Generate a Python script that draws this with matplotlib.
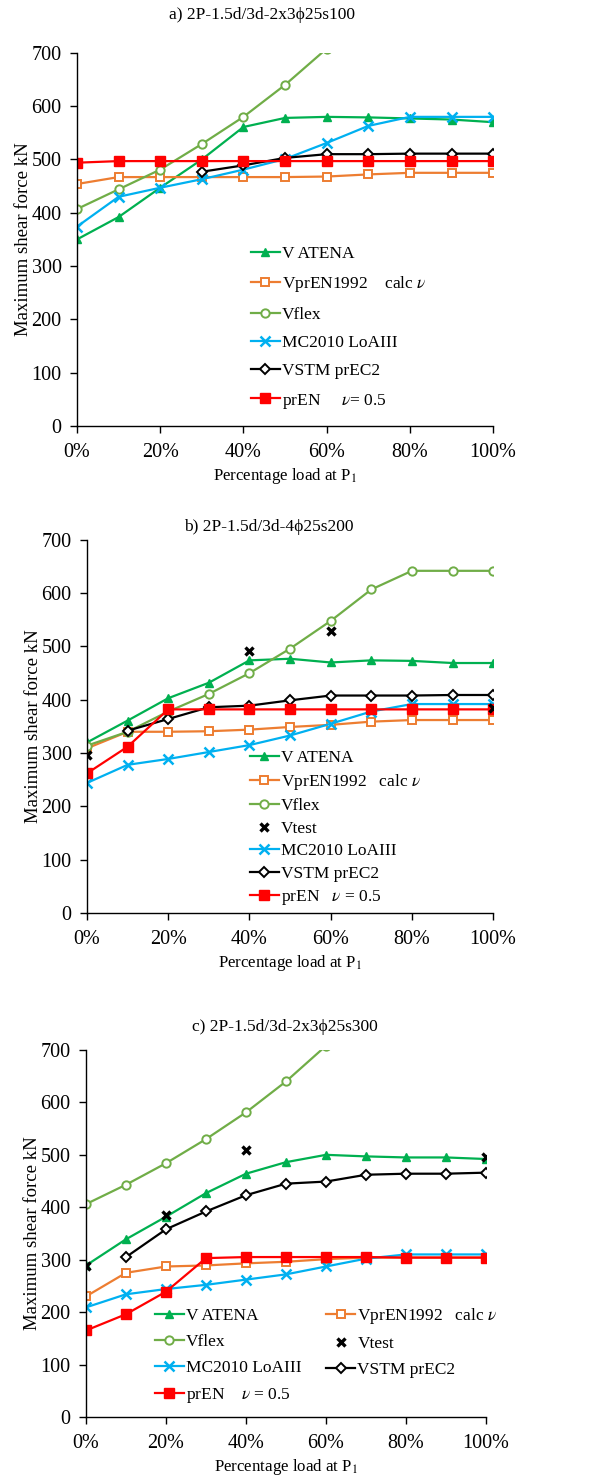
import matplotlib
matplotlib.use("Agg")
import matplotlib.pyplot as plt

plt.rcParams["font.family"] = ["Liberation Serif", "DejaVu Serif"]
plt.rcParams["mathtext.fontset"] = "stix"

# x positions (fraction of load at P1)
pct = [0, 10, 20, 30, 40, 50, 60, 70, 80, 90, 100]

# --- a) 2P-1.5d/3d-2x3phi25s100
a_atena = [350, 392, 447, 500, 561, 578, 580, 579, 577, 575, 570]
a_prEN1992 = [454, 467, 467, 467, 467, 467, 468, 472, 475, 475, 475]
a_flex = [407, 444, 481, 529, 580, 640, 708]
a_mc2010 = [374, 430, 447, 463, 481, 501, 531, 563, 580, 580, 580]
a_vstm_pct = [30, 40, 50, 60, 70, 80, 90, 100]
a_vstm = [477, 489, 503, 510, 510, 511, 511, 511]
a_pren = [494, 497, 497, 497, 497, 497, 497, 497, 497, 497, 497]

# --- b) 2P-1.5d/3d-4phi25s200
b_atena = [320, 361, 403, 432, 474, 477, 470, 474, 473, 469, 469]
b_prEN1992 = [309, 340, 340, 341, 344, 349, 353, 359, 362, 362, 362]
b_flex = [314, 340, 378, 411, 450, 496, 548, 607, 642, 642, 642]
b_test_pct = [0, 40, 60, 100]
b_test = [297, 492, 530, 385]
b_mc2010 = [244, 278, 289, 302, 315, 333, 355, 378, 392, 392, 392]
b_vstm_pct = [10, 20, 30, 40, 50, 60, 70, 80, 90, 100]
b_vstm = [342, 364, 386, 389, 399, 408, 408, 408, 409, 409]
b_pren = [262, 312, 382, 382, 382, 382, 382, 382, 382, 382, 382]

# --- c) 2P-1.5d/3d-2x3phi25s300
c_atena = [289, 339, 382, 427, 464, 486, 500, 497, 495, 495, 492]
c_prEN1992 = [230, 275, 287, 289, 293, 296, 301, 304, 304, 304, 304]
c_flex = [406, 443, 484, 530, 581, 640, 708]
c_test_pct = [0, 20, 40, 100]
c_test = [287, 386, 510, 496]
c_mc2010 = [209, 234, 244, 252, 262, 272, 287, 302, 310, 310, 310]
c_vstm_pct = [10, 20, 30, 40, 50, 60, 70, 80, 90, 100]
c_vstm = [305, 358, 392, 423, 445, 449, 462, 464, 464, 466]
c_pren = [165, 196, 239, 303, 305, 305, 305, 305, 304, 304, 304]

C_ATENA = "#00B050"
C_EN1992 = "#ED7D31"
C_FLEX = "#70AD47"
C_MC = "#00B0F0"
C_VSTM = "#000000"
C_PREN = "#FF0000"

LW = 1.6
MS = 6
TICK_FS = 14.5
LEG_FS = 12.5


def style_axes(ax):
    ax.set_xlim(0, 100)
    ax.set_ylim(0, 700)
    ax.set_yticks(range(0, 701, 100))
    ax.set_xticks(range(0, 101, 20))
    ax.set_xticklabels([f"{v}%" for v in range(0, 101, 20)])
    ax.spines["top"].set_visible(False)
    ax.spines["right"].set_visible(False)
    for s in ("left", "bottom"):
        ax.spines[s].set_linewidth(1.0)
    ax.tick_params(labelsize=TICK_FS, length=5, width=1.0, direction="out")
    ax.tick_params(axis="y", pad=6)
    ax.tick_params(axis="x", pad=7)
    ax.set_xlabel("Percentage load at P$_1$", fontsize=12.2, labelpad=3)
    ax.set_ylabel("Maximum shear force kN", fontsize=13.5, labelpad=0)
    ax.margins(0)


def draw(ax, atena, en1992, flex, mc, vstm_pct, vstm, pren, test_pct=None, test=None):
    h = {}
    h["atena"], = ax.plot(pct[:len(atena)], atena, color=C_ATENA, lw=LW,
                          marker="^", ms=MS, mfc=C_ATENA, mec=C_ATENA)
    h["en1992"], = ax.plot(pct[:len(en1992)], en1992, color=C_EN1992, lw=LW,
                           marker="s", ms=MS, mfc="white", mec=C_EN1992, mew=1.4)
    h["flex"], = ax.plot(pct[:len(flex)], flex, color=C_FLEX, lw=LW,
                         marker="o", ms=MS, mfc="white", mec=C_FLEX, mew=1.4)
    h["mc"], = ax.plot(pct[:len(mc)], mc, color=C_MC, lw=LW,
                       marker="x", ms=MS + 1, mec=C_MC, mew=1.8)
    h["vstm"], = ax.plot(vstm_pct, vstm, color=C_VSTM, lw=LW,
                         marker="D", ms=MS - 0.5, mfc="white", mec=C_VSTM, mew=1.4)
    h["pren"], = ax.plot(pct[:len(pren)], pren, color=C_PREN, lw=LW,
                         marker="s", ms=MS + 1, mfc=C_PREN, mec=C_PREN)
    if test is not None:
        h["test"], = ax.plot(test_pct, test, ls="none", marker="x", ms=MS,
                             mec="black", mew=2.4, zorder=5)
    return h


fig = plt.figure(figsize=(5.92, 14.78), dpi=100)

# panel a
ax_a = fig.add_axes([0.130, 0.7118, 0.703, 0.2524])
ha = draw(ax_a, a_atena, a_prEN1992, a_flex, a_mc2010, a_vstm_pct, a_vstm, a_pren)
style_axes(ax_a)
fig.text(0.443, 1 - 15 / 1478, "a) 2P-1.5d/3d-2x3\u03d525s100", ha="center",
         va="center", fontsize=12.5)
ax_a.legend([ha["atena"], ha["en1992"], ha["flex"], ha["mc"], ha["vstm"], ha["pren"]],
            ["V ATENA", "VprEN1992    calc $\\nu$", "Vflex", "MC2010 LoAIII",
             "VSTM prEC2", "prEN     $\\nu$= 0.5"],
            loc="upper left", bbox_to_anchor=(0.418, 0.482), frameon=False,
            fontsize=LEG_FS, borderpad=0, borderaxespad=0, handlelength=1.65,
            handletextpad=0.15, labelspacing=0.7)

# panel b
ax_b = fig.add_axes([0.147, 0.3823, 0.686, 0.2524])
hb = draw(ax_b, b_atena, b_prEN1992, b_flex, b_mc2010, b_vstm_pct, b_vstm, b_pren,
          b_test_pct, b_test)
style_axes(ax_b)
fig.text(0.454, 1 - 527 / 1478, "b) 2P-1.5d/3d-4\u03d525s200", ha="center",
         va="center", fontsize=12.5)
ax_b.legend([hb["atena"], hb["en1992"], hb["flex"], hb["test"], hb["mc"], hb["vstm"],
             hb["pren"]],
            ["V ATENA", "VprEN1992   calc $\\nu$", "Vflex", "Vtest", "MC2010 LoAIII",
             "VSTM prEC2", "prEN   $\\nu$ = 0.5"],
            loc="upper left", bbox_to_anchor=(0.401, 0.438), frameon=False,
            fontsize=LEG_FS, borderpad=0, borderaxespad=0, handlelength=1.65,
            handletextpad=0.15, labelspacing=0.36)

# panel c
ax_c = fig.add_axes([0.1453, 0.0413, 0.6757, 0.2483])
hc = draw(ax_c, c_atena, c_prEN1992, c_flex, c_mc2010, c_vstm_pct, c_vstm, c_pren,
          c_test_pct, c_test)
style_axes(ax_c)
fig.text(0.481, 1 - 1027 / 1478, "c) 2P-1.5d/3d-2x3\u03d525s300", ha="center",
         va="center", fontsize=12.5)
ax_c.legend([hc["atena"], hc["flex"], hc["mc"], hc["pren"], hc["en1992"], hc["test"],
             hc["vstm"]],
            ["V ATENA", "Vflex", "MC2010 LoAIII", "prEN    $\\nu$ = 0.5",
             "VprEN1992   calc $\\nu$", "Vtest", "VSTM prEC2"],
            ncol=2, loc="upper left", bbox_to_anchor=(0.1725, 0.302), frameon=False,
            fontsize=LEG_FS, borderpad=0, borderaxespad=0, handlelength=1.65,
            handletextpad=0.15, labelspacing=0.56, columnspacing=1.4)

fig.savefig("out.png", dpi=100)
